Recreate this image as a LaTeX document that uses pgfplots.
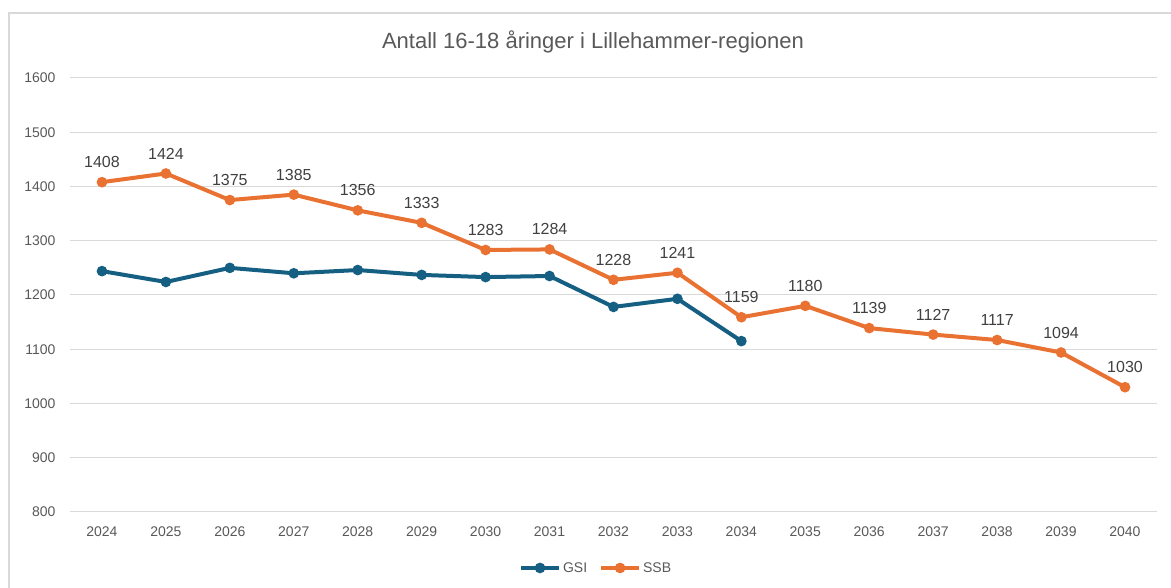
\documentclass[border=0pt]{standalone}
\usepackage{fontspec}
\setmainfont{Liberation Sans}
\usepackage{pgfplots}
\pgfplotsset{compat=1.18}
\definecolor{gsi}{HTML}{156082}
\definecolor{ssb}{HTML}{E97132}
\definecolor{gridc}{HTML}{D9D9D9}
\definecolor{txt}{HTML}{595959}
\definecolor{lbl}{HTML}{404040}
\begin{document}
\begin{tikzpicture}[x=1pt,y=1pt]
\useasboundingbox (0,0) rectangle (1171,588);
\draw[gridc, line width=1.5pt] (9,0) -- (9,575) -- (1171,575);
\node[font=\fontsize{22}{25}\selectfont, text=txt] at (593,546) {Antall 16-18 åringer i Lillehammer-regionen};
\begin{axis}[
  at={(70pt,76pt)}, anchor=south west,
  scale only axis, width=1087pt, height=434pt,
  xmin=2023.5, xmax=2040.5, ymin=800, ymax=1600,
  xtick={2024,...,2040}, ytick={800,900,...,1600},
  axis line style={draw=none},
  major tick length=0pt,
  ymajorgrids, grid style={gridc, line width=1pt},
  /pgf/number format/1000 sep={},
  /pgf/number format/assume math mode=true,
  tick label style={font=\fontsize{14}{16}\selectfont, text=txt},
  yticklabel style={xshift=-11pt},
  xticklabel style={yshift=-11pt},
  legend style={at={(0.484,-0.129)}, anchor=center, draw=none, fill=none,
    legend columns=2, font=\fontsize{14}{16}\selectfont, text=txt,
    /tikz/every even column/.append style={column sep=10pt}},
  legend image code/.code={\draw[#1, mark repeat=2, mark phase=2] plot coordinates {(0pt,0pt) (19pt,0pt) (38pt,0pt)};},
  clip=false,
]
\addplot[gsi, line width=4pt, mark=*, mark size=3.2pt, mark options={solid}] coordinates {
(2024,1244) (2025,1224) (2026,1250) (2027,1240) (2028,1246) (2029,1237)
(2030,1233) (2031,1235) (2032,1178) (2033,1193) (2034,1115)};
\addlegendentry{GSI}
\addplot[ssb, line width=4pt, mark=*, mark size=3.2pt, mark options={solid},
  point meta=explicit symbolic, nodes near coords,
  every node near coord/.style={font=\fontsize{16}{18}\selectfont, text=lbl, anchor=south, yshift=9pt}] coordinates {
(2024,1408)[1408] (2025,1424)[1424] (2026,1375)[1375] (2027,1385)[1385]
(2028,1356)[1356] (2029,1333)[1333] (2030,1283)[1283] (2031,1284)[1284]
(2032,1228)[1228] (2033,1241)[1241] (2034,1159)[1159] (2035,1180)[1180]
(2036,1139)[1139] (2037,1127)[1127] (2038,1117)[1117] (2039,1094)[1094]
(2040,1030)[1030]};
\addlegendentry{SSB}
\end{axis}
\end{tikzpicture}
\end{document}
